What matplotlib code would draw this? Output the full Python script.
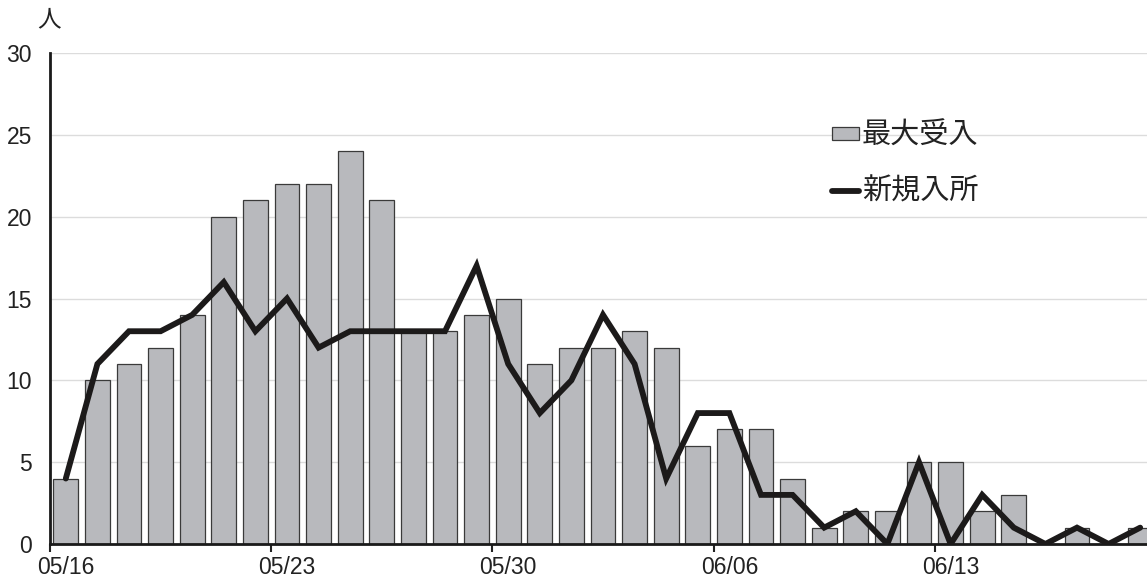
import matplotlib
matplotlib.use("Agg")
import matplotlib.pyplot as plt
from matplotlib.patches import Rectangle
from matplotlib.legend_handler import HandlerPatch
from matplotlib.ticker import FixedLocator
import numpy as np

plt.rcParams["font.family"] = ["Noto Sans CJK JP", "DejaVu Sans"]

dates = ["05/16", "05/17", "05/18", "05/19", "05/20", "05/21", "05/22",
         "05/23", "05/24", "05/25", "05/26", "05/27", "05/28", "05/29",
         "05/30", "05/31", "06/01", "06/02", "06/03", "06/04", "06/05",
         "06/06", "06/07", "06/08", "06/09", "06/10", "06/11", "06/12",
         "06/13", "06/14", "06/15", "06/16", "06/17", "06/18", "06/19"]
max_accept = [4, 10, 11, 12, 14, 20, 21, 22, 22, 24, 21, 13, 13, 14,
              15, 11, 12, 12, 13, 12, 6, 7, 7, 4, 1, 2, 2, 5,
              5, 2, 3, 0, 1, 0, 1]
new_entries = [4, 11, 13, 13, 14, 16, 13, 15, 12, 13, 13, 13, 13, 17,
               11, 8, 10, 14, 11, 4, 8, 8, 3, 3, 1, 2, 0, 5,
               0, 3, 1, 0, 1, 0, 1]
y_ticks = [0, 5, 10, 15, 20, 25, 30]

num_font = ["Liberation Sans", "DejaVu Sans"]
x = np.arange(len(dates))

fig = plt.figure(figsize=(11.47, 5.81), dpi=100)
ax = fig.add_axes([50 / 1147, 1 - 544 / 581, 1106 / 1147, (544 - 53) / 581])

bars = ax.bar(x, max_accept, width=0.79, color="#b8b9bd", edgecolor="#3a3a3a",
              linewidth=0.9, zorder=2, label="最大受入")
line, = ax.plot(x, new_entries, color="#1c1a1a", linewidth=4.2, zorder=3,
                solid_joinstyle="miter", solid_capstyle="round", label="新規入所")

ax.set_xlim(-0.5, len(dates) - 0.5)
ax.set_ylim(0, 30)

# y axis
ax.set_yticks(y_ticks)
ax.set_yticklabels([str(v) for v in y_ticks], fontsize=16.5,
                   family=num_font, color="#222222")
ax.tick_params(axis="y", length=0, pad=13)
ax.yaxis.grid(True, color="#dcdcdc", linewidth=1.0, zorder=0)
ax.set_axisbelow(True)

# x axis: tick marks at week boundaries, labels at weekly dates
week_idx = list(range(0, len(dates), 7))
ax.xaxis.set_major_locator(FixedLocator([i - 0.5 for i in week_idx]))
ax.xaxis.set_minor_locator(FixedLocator(week_idx))
ax.set_xticklabels([""] * len(week_idx))
ax.set_xticklabels([dates[i] for i in week_idx], minor=True, fontsize=16.5,
                   family=num_font, color="#222222")
ax.tick_params(axis="x", which="major", length=6, width=1.5, direction="out", color="#222222")
ax.tick_params(axis="x", which="minor", length=0, pad=9)

for side in ["top", "right"]:
    ax.spines[side].set_visible(False)
for side in ["left", "bottom"]:
    ax.spines[side].set_linewidth(2.0)
    ax.spines[side].set_color("#1a1a1a")

fig.text(49 / 1147, 1 - 20 / 581, "人", fontsize=17, ha="center", va="center",
         color="#222222")


def small_box(legend, orig_handle, xdescent, ydescent, width, height, fontsize):
    return Rectangle((-xdescent, -ydescent), width, height)


ax.legend(handles=[bars, line], labels=["最大受入", "新規入所"],
          loc="upper left", bbox_to_anchor=(832 / 1147, 1 - 121 / 581),
          bbox_transform=fig.transFigure, frameon=False, fontsize=21,
          handlelength=0.92, handleheight=0.35, handletextpad=0.1,
          labelspacing=0.88, borderpad=0, borderaxespad=0,
          handler_map={Rectangle: HandlerPatch(patch_func=small_box)},
          labelcolor="#222222")

fig.savefig("out.png", dpi=100)
